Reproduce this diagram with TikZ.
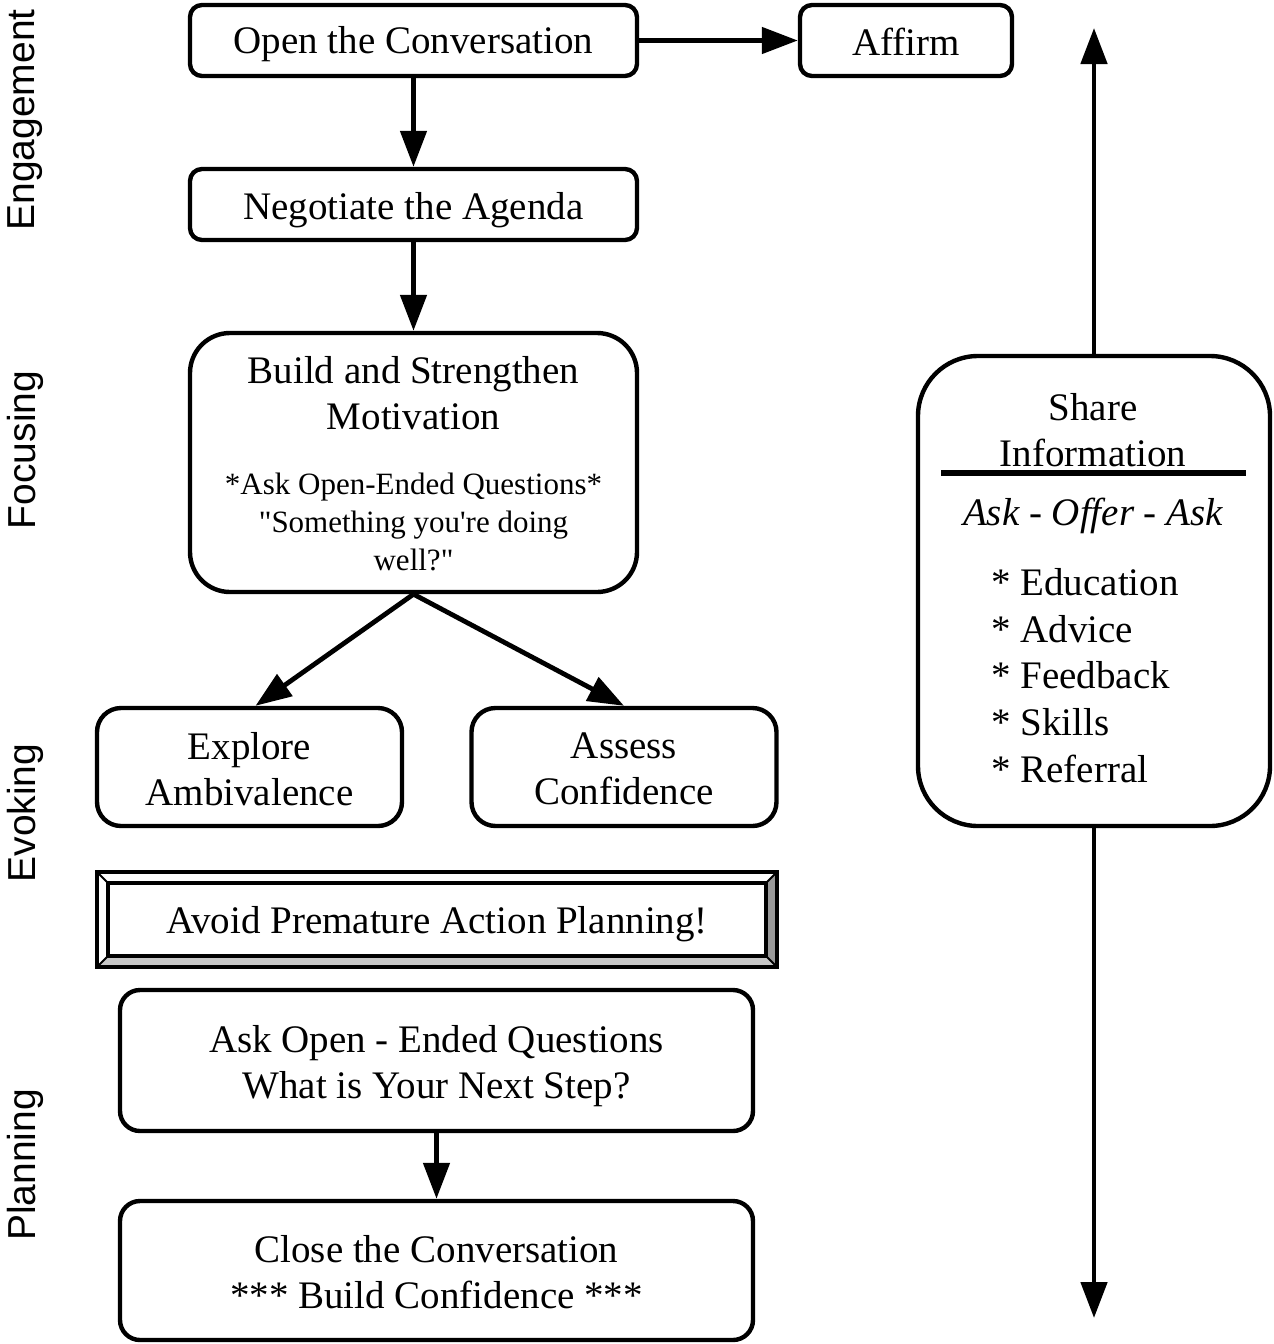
\documentclass[tikz,border=0pt]{standalone}
\usepackage{fontspec}
\setmainfont{Liberation Serif}
\newfontfamily\labelfont{Liberation Sans}
\usetikzlibrary{arrows.meta}
\definecolor{bevR}{gray}{0.6}
\definecolor{bevB}{gray}{0.78}
\begin{document}
\begin{tikzpicture}[x=0.5pt,y=-0.5pt,
  box/.style={draw,line width=2.2pt,inner sep=0pt,rounded corners=#1},
  box/.default=6pt,
  txt/.style={align=center,inner sep=0pt,font=\fontsize{19.5}{23}\selectfont},
  small/.style={align=center,inner sep=0pt,font=\fontsize{15.5}{19}\selectfont},
  arr/.style={line width=2.4pt,-{Triangle[length=18pt,width=13pt]}},
  lab/.style={rotate=90,inner sep=0pt,font=\labelfont\fontsize{19.5}{23}\selectfont}]
\useasboundingbox (0,0) rectangle (1274,1344);

% side labels
\node[lab] (lEng) at (25,120) {Engagement};
\node[lab] (lFoc) at (25,450) {Focusing};
\node[lab] (lEvo) at (25,813) {Evoking};
\node[lab] (lPla) at (25,1165) {Planning};

% boxes
\node[box, minimum width=223.5pt, minimum height=35.5pt] (open) at (413.5,40.5) {};
\node[txt] (openT) at (413.5,44.5) {Open the Conversation};
\node[box, minimum width=106pt, minimum height=35.5pt] (affirm) at (906,40.5) {};
\node[txt] (affirmT) at (906,41.5) {Affirm};
\node[box, minimum width=223.5pt, minimum height=35.5pt] (nego) at (413.5,204.5) {};
\node[txt] (negoT) at (413.5,210.5) {Negotiate the Agenda};
\node[box=20pt, minimum width=223.5pt, minimum height=129.5pt] (build) at (413.5,462.5) {};
\node[txt] (buildA) at (413.5,393) {Build and Strengthen\\Motivation};
\node[small] (buildB) at (413.5,522) {*Ask Open-Ended Questions*\\\textquotedbl Something you\textquotesingle re doing\\well?\textquotedbl};
\node[box=12pt, minimum width=152.5pt, minimum height=59pt] (explore) at (249.5,767) {};
\node[txt] (exploreT) at (249.5,769) {Explore\\Ambivalence};
\node[box=12pt, minimum width=152.5pt, minimum height=59pt] (assess) at (624,767) {};
\node[txt] (assessT) at (624,769) {Assess\\Confidence};

% bevelled warning box
\fill[bevR] (777,872) -- (777,967) -- (766,956) -- (766,883) -- cycle;
\fill[bevB] (97,967) -- (777,967) -- (766,956) -- (108,956) -- cycle;
\draw[line width=1pt] (97,872) -- (108,883) (777,872) -- (766,883)
  (97,967) -- (108,956) (777,967) -- (766,956);
\draw[line width=2.2pt] (97,872) rectangle (777,967);
\node[draw, line width=2.2pt, fill=white, minimum width=329pt, minimum height=36.5pt, inner sep=0pt] (avoid) at (437,919.5) {};
\node[txt] (avoidT) at (437,924.5) {Avoid Premature Action Planning!};

\node[box=10pt, minimum width=316.5pt, minimum height=70.5pt] (askq) at (436.5,1060.5) {};
\node[txt] (askqT) at (436.5,1066.5) {Ask Open - Ended Questions\\What is Your Next Step?};
\node[box=10pt, minimum width=316.5pt, minimum height=69.5pt] (close) at (436.5,1270.5) {};
\node[txt] (closeT) at (436.5,1272.5) {Close the Conversation\\*** Build Confidence ***};

% share information
\node[box=30pt, minimum width=176pt, minimum height=235pt] (share) at (1094,591) {};
\node[txt] (shareT) at (1093,430) {Share\\Information};
\draw[line width=2.6pt] (941,473) -- (1246,473);
\node[txt, font=\fontsize{19.5}{23}\selectfont\itshape] (aoa) at (1093,516) {Ask - Offer - Ask};
\node[txt, align=left, anchor=west, font=\fontsize{19.5}{23.4}\selectfont] (list) at (991,675.5)
  {* Education\\* Advice\\* Feedback\\* Skills\\* Referral};

\coordinate (topEnd) at (1094,28);
\coordinate (botEnd) at (1094,1318);

% connectors
\draw[arr] (open) -- (affirm);
\draw[arr] (open) -- (nego);
\draw[arr] (nego) -- (build);
\draw[arr] (build.south) -- ([xshift=3pt]explore.north);
\draw[arr] (build.south) -- (assess.north);
\draw[arr] (askq) -- (close);
\draw[arr] (share.north) -- (topEnd);
\draw[arr] (share.south) -- (botEnd);
\end{tikzpicture}
\end{document}
